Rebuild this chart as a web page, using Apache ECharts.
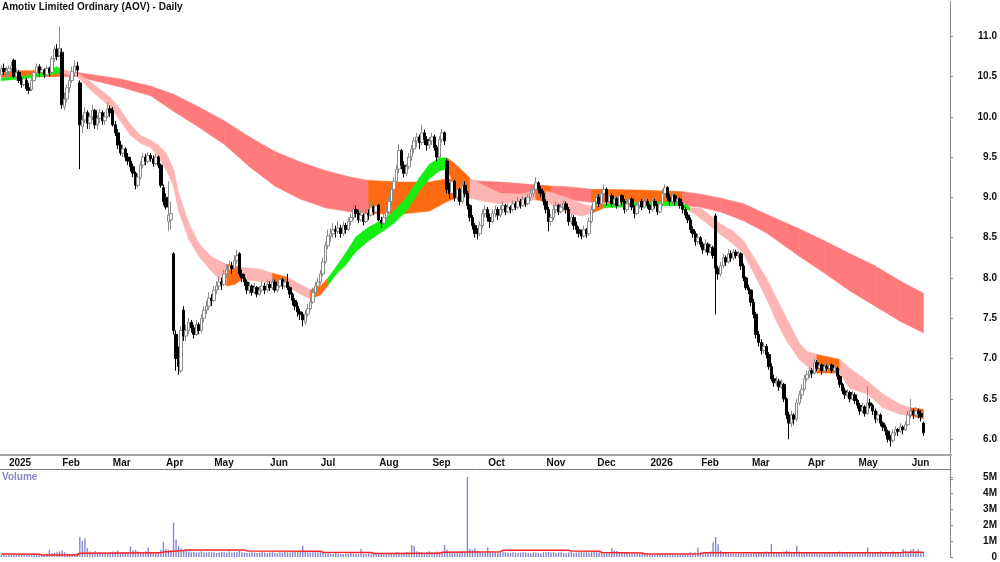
<!DOCTYPE html>
<html>
<head>
<meta charset="utf-8">
<title>Amotiv Limited Ordinary (AOV) - Daily</title>
<script src="https://cdn.jsdelivr.net/npm/echarts@6.0.0/dist/echarts.min.js"></script>
<style>
  html, body { margin: 0; padding: 0; background: #fff; }
  #chart { width: 1000px; height: 562px; }
</style>
</head>
<body>
<div id="chart"></div>
<script>
// trading days shown for each month, and the label drawn at its first day
const monthCounts = [3, 21, 20, 21, 19, 22, 20, 23, 21, 22, 23, 20, 21, 20, 20, 22, 20, 21, 6];
const monthLabels = ['', '2025', 'Feb', 'Mar', 'Apr', 'May', 'Jun', 'Jul', 'Aug', 'Sep', 'Oct', 'Nov', 'Dec',
                     '2026', 'Feb', 'Mar', 'Apr', 'May', 'Jun'];
const padDays = 10; // empty space right of the last bar

// daily bars: [open, high, low, close]
const bars = [
  // Dec 2024
  [10.52,10.64,10.5,10.6],[10.6,10.66,10.52,10.56],[10.55,10.62,10.48,10.58],
  // Jan 2025
  [10.56,10.64,10.52,10.6],[10.6,10.68,10.55,10.63],[10.7,10.72,10.48,10.5],[10.5,10.6,10.45,10.55],
  [10.55,10.58,10.42,10.45],[10.45,10.5,10.36,10.4],[10.4,10.5,10.38,10.47],[10.45,10.48,10.32,10.35],
  [10.36,10.42,10.28,10.33],[10.34,10.48,10.32,10.45],[10.45,10.58,10.44,10.55],[10.55,10.66,10.52,10.62],
  [10.62,10.65,10.5,10.55],[10.55,10.62,10.5,10.58],[10.58,10.6,10.48,10.52],[10.52,10.64,10.5,10.6],
  [10.6,10.62,10.5,10.55],[10.55,10.75,10.54,10.72],[10.72,10.88,10.68,10.84],[10.84,10.9,10.7,10.75],
  [10.76,11.12,10.74,10.85],
  // Feb
  [10.8,10.85,10.1,10.15],[10.12,10.3,10.08,10.22],[10.22,10.4,10.18,10.36],[10.36,10.5,10.3,10.45],
  [10.45,10.62,10.42,10.56],[10.55,10.7,10.5,10.63],[10.63,10.68,10.5,10.58],[10.42,10.45,9.35,9.9],
  [9.88,10.02,9.8,9.96],[9.96,10.12,9.92,10.05],[10.05,10.08,9.85,9.92],[9.92,10.05,9.85,10.0],
  [10.0,10.15,9.96,10.08],[10.08,10.1,9.85,9.9],[9.9,10.02,9.84,9.98],[9.98,10.1,9.92,10.05],
  [10.05,10.08,9.9,9.95],[9.95,10.06,9.9,10.0],[10.0,10.18,9.98,10.1],[10.1,10.14,10.0,10.05],
  // Mar
  [10.08,10.12,9.88,9.9],[9.9,9.95,9.76,9.8],[9.8,9.85,9.6,9.65],[9.65,9.7,9.52,9.55],
  [9.55,9.66,9.5,9.6],[9.6,9.62,9.45,9.5],[9.5,9.55,9.4,9.45],[9.45,9.5,9.32,9.38],
  [9.38,9.42,9.25,9.3],[9.3,9.32,9.1,9.15],[9.15,9.3,9.12,9.25],[9.25,9.45,9.22,9.4],
  [9.4,9.55,9.36,9.5],[9.5,9.54,9.4,9.45],[9.45,9.56,9.42,9.52],[9.52,9.55,9.44,9.48],
  [9.48,9.52,9.38,9.42],[9.42,9.54,9.4,9.5],[9.5,9.52,9.36,9.4],[9.4,9.42,9.12,9.15],
  [9.12,9.16,8.9,8.95],
  // Apr
  [9.0,9.05,8.85,8.88],[8.7,9.2,8.58,8.78],[8.72,8.95,8.6,8.8],[8.3,8.32,7.3,7.35],
  [7.3,7.35,6.85,7.0],[7.05,7.15,6.8,6.9],[6.85,7.4,6.82,7.35],[7.6,7.65,7.22,7.28],
  [7.28,7.42,7.22,7.35],[7.35,7.5,7.3,7.45],[7.45,7.48,7.32,7.38],[7.38,7.42,7.25,7.3],
  [7.3,7.48,7.28,7.42],[7.42,7.45,7.3,7.35],[7.35,7.55,7.32,7.5],[7.5,7.65,7.45,7.6],
  [7.6,7.72,7.55,7.65],[7.65,7.82,7.6,7.75],[7.75,7.8,7.65,7.72],
  // May
  [7.72,7.9,7.7,7.85],[7.85,7.96,7.8,7.9],[7.9,8.02,7.85,7.95],[7.95,8.0,7.85,7.92],
  [7.92,8.1,7.9,8.05],[8.05,8.16,8.0,8.1],[8.1,8.22,8.06,8.15],[8.15,8.2,8.05,8.12],
  [8.12,8.28,8.1,8.22],[8.22,8.35,8.18,8.28],[8.3,8.32,8.02,8.05],[8.05,8.1,7.95,8.0],
  [8.0,8.05,7.9,7.95],[7.95,7.98,7.8,7.85],[7.85,7.95,7.8,7.9],[7.9,7.92,7.78,7.82],
  [7.82,7.94,7.8,7.88],[7.88,7.9,7.76,7.8],[7.8,7.9,7.78,7.85],[7.85,7.96,7.82,7.9],
  [7.9,7.94,7.8,7.85],[7.85,7.98,7.82,7.92],
  // Jun
  [7.92,7.96,7.84,7.88],[7.88,8.0,7.85,7.95],[7.95,7.98,7.82,7.85],[7.85,7.95,7.82,7.9],
  [7.9,8.02,7.88,7.98],[7.98,8.0,7.86,7.9],[7.9,8.0,7.88,7.95],[7.95,8.05,7.85,7.88],
  [7.88,7.9,7.75,7.8],[7.8,7.82,7.66,7.72],[7.72,7.75,7.6,7.65],[7.65,7.7,7.52,7.58],
  [7.58,7.62,7.48,7.55],[7.55,7.58,7.4,7.48],[7.45,7.6,7.42,7.55],[7.55,7.68,7.52,7.62],
  [7.62,7.75,7.6,7.7],[7.7,7.88,7.68,7.82],[7.82,7.95,7.8,7.9],[7.9,8.0,7.86,7.95],
  // Jul
  [7.95,8.1,7.92,8.05],[8.05,8.25,8.02,8.2],[8.2,8.45,8.18,8.4],[8.4,8.6,8.36,8.52],
  [8.52,8.62,8.45,8.55],[8.55,8.68,8.5,8.6],[8.6,8.65,8.5,8.58],[8.58,8.7,8.55,8.62],
  [8.62,8.66,8.5,8.55],[8.55,8.7,8.52,8.65],[8.65,8.68,8.55,8.6],[8.6,8.75,8.58,8.7],
  [8.7,8.8,8.65,8.75],[8.75,8.92,8.72,8.85],[8.85,8.9,8.75,8.8],[8.8,8.84,8.68,8.72],
  [8.72,8.84,8.7,8.78],[8.78,8.8,8.65,8.7],[8.7,8.86,8.68,8.8],[8.8,8.85,8.72,8.78],
  [8.78,8.95,8.76,8.88],[8.88,8.9,8.78,8.82],[8.82,8.96,8.8,8.9],
  // Aug
  [8.9,8.92,8.7,8.72],[8.72,8.76,8.62,8.68],[8.68,8.8,8.65,8.75],[8.75,8.88,8.72,8.82],
  [8.82,9.0,8.8,8.95],[8.95,9.15,8.92,9.1],[9.1,9.25,9.05,9.2],[9.2,9.4,9.18,9.35],
  [9.35,9.66,9.3,9.58],[9.58,9.6,9.35,9.4],[9.4,9.45,9.25,9.3],[9.3,9.42,9.26,9.38],
  [9.38,9.55,9.35,9.5],[9.5,9.65,9.45,9.6],[9.6,9.75,9.55,9.7],[9.7,9.8,9.62,9.75],
  [9.75,9.78,9.6,9.68],[9.68,9.9,9.65,9.8],[9.8,9.84,9.65,9.72],[9.72,9.76,9.58,9.65],
  [9.65,9.75,9.6,9.7],
  // Sep
  [9.7,9.8,9.65,9.75],[9.75,9.78,9.58,9.62],[9.62,9.65,9.45,9.5],[9.5,9.76,9.48,9.72],
  [9.72,9.85,9.68,9.8],[9.8,9.82,9.65,9.7],[9.45,9.48,9.05,9.1],[9.1,9.18,8.98,9.05],
  [9.05,9.25,9.02,9.2],[9.2,9.22,8.95,9.0],[9.0,9.15,8.96,9.1],[9.1,9.12,8.9,8.95],
  [8.95,9.2,8.92,9.15],[9.15,9.2,9.0,9.05],[9.05,9.08,8.85,8.9],[8.9,8.92,8.7,8.75],
  [8.75,8.78,8.6,8.65],[8.65,8.68,8.5,8.55],[8.58,8.62,8.48,8.55],[8.55,8.7,8.52,8.65],
  [8.65,8.85,8.62,8.8],[8.8,8.9,8.75,8.85],
  // Oct
  [8.85,8.88,8.7,8.75],[8.75,8.8,8.62,8.7],[8.7,8.85,8.68,8.8],[8.8,8.9,8.75,8.85],
  [8.85,8.88,8.72,8.78],[8.78,8.9,8.75,8.85],[8.85,8.95,8.8,8.9],[8.9,8.92,8.78,8.82],
  [8.82,8.92,8.8,8.88],[8.88,8.9,8.8,8.85],[8.85,8.96,8.82,8.92],[8.92,8.95,8.84,8.88],
  [8.88,9.0,8.85,8.95],[8.95,8.98,8.86,8.9],[8.9,9.02,8.88,8.98],[8.98,9.0,8.88,8.92],
  [8.92,9.04,8.9,9.0],[9.0,9.1,8.96,9.05],[9.05,9.15,9.0,9.1],[9.1,9.25,9.06,9.18],
  [9.18,9.2,9.05,9.1],[9.1,9.14,9.0,9.05],[9.05,9.08,8.9,8.95],
  // Nov
  [8.95,8.98,8.8,8.85],[8.85,8.88,8.58,8.7],[8.7,8.8,8.65,8.75],[8.75,8.9,8.72,8.85],
  [8.85,8.95,8.8,8.9],[8.9,8.92,8.78,8.82],[8.82,8.92,8.8,8.88],[8.88,8.96,8.84,8.92],
  [8.92,8.95,8.8,8.85],[8.85,8.88,8.65,8.7],[8.7,8.8,8.66,8.75],[8.75,8.78,8.6,8.65],
  [8.65,8.7,8.55,8.6],[8.6,8.64,8.5,8.55],[8.55,8.6,8.48,8.52],[8.52,8.65,8.5,8.6],
  [8.6,8.62,8.5,8.55],[8.55,8.75,8.52,8.7],[8.7,8.9,8.68,8.85],[8.85,9.0,8.82,8.95],
  // Dec
  [8.95,9.05,8.9,9.0],[9.0,9.04,8.88,8.92],[8.92,9.1,8.9,9.05],[9.05,9.16,9.0,9.1],
  [9.1,9.12,8.9,8.95],[8.95,9.06,8.92,9.02],[9.02,9.05,8.88,8.92],[8.92,9.02,8.9,8.98],
  [8.98,9.0,8.86,8.9],[8.9,9.06,8.88,9.02],[9.02,9.04,8.9,8.95],[8.95,8.98,8.8,8.85],
  [8.85,8.96,8.82,8.92],[8.92,9.02,8.9,8.98],[8.98,9.0,8.84,8.88],[8.88,8.9,8.74,8.8],
  [8.8,8.94,8.78,8.9],[8.9,9.0,8.86,8.95],[8.95,8.98,8.84,8.88],[8.88,9.0,8.86,8.95],
  [8.95,8.98,8.86,8.9],
  // Jan 2026
  [8.9,8.92,8.8,8.85],[8.85,9.0,8.82,8.95],[8.95,8.98,8.86,8.9],[8.9,8.92,8.78,8.82],
  [8.82,8.96,8.8,8.92],[8.92,9.1,8.9,9.05],[9.05,9.16,9.02,9.12],[9.12,9.14,8.96,9.0],
  [9.0,9.04,8.9,8.95],[8.95,9.06,8.92,9.02],[9.02,9.04,8.9,8.95],[8.95,9.04,8.92,8.98],
  [8.98,9.0,8.86,8.9],[8.9,8.94,8.8,8.85],[8.85,8.88,8.74,8.78],[8.78,8.82,8.68,8.72],
  [8.72,8.75,8.56,8.6],[8.6,8.64,8.5,8.55],[8.55,8.58,8.4,8.45],[8.45,8.55,8.42,8.5],
  // Feb
  [8.5,8.52,8.38,8.42],[8.42,8.45,8.3,8.35],[8.35,8.48,8.32,8.42],[8.42,8.44,8.28,8.32],
  [8.32,8.42,8.3,8.38],[8.38,8.4,8.24,8.28],[8.77,8.8,7.55,8.12],[8.12,8.15,7.98,8.05],
  [8.05,8.2,8.02,8.15],[8.15,8.3,8.12,8.25],[8.25,8.28,8.15,8.2],[8.2,8.36,8.18,8.3],
  [8.3,8.34,8.2,8.25],[8.25,8.36,8.22,8.32],[8.32,8.35,8.24,8.28],[8.28,8.34,8.25,8.3],
  [8.3,8.32,8.1,8.15],[8.15,8.18,7.96,8.0],[8.0,8.02,7.85,7.88],[7.88,7.92,7.8,7.85],
  // Mar
  [7.85,7.86,7.65,7.7],[7.7,7.74,7.5,7.55],[7.55,7.58,7.25,7.3],[7.3,7.34,7.15,7.2],
  [7.2,7.24,7.05,7.1],[7.1,7.2,7.06,7.15],[7.15,7.18,7.0,7.05],[7.05,7.08,6.86,6.9],
  [6.9,6.94,6.72,6.75],[6.75,6.8,6.65,6.7],[6.7,6.78,6.66,6.72],[6.72,6.75,6.6,6.65],
  [6.65,6.74,6.62,6.68],[6.68,6.7,6.46,6.5],[6.5,6.52,6.25,6.3],[6.3,6.34,6.0,6.2],
  [6.2,6.35,6.15,6.3],[6.3,6.32,6.18,6.25],[6.25,6.5,6.22,6.45],[6.45,6.6,6.42,6.55],
  [6.55,6.68,6.5,6.62],[6.62,6.8,6.6,6.75],
  // Apr
  [6.75,6.85,6.72,6.8],[6.8,6.9,6.76,6.85],[6.85,6.88,6.76,6.82],[6.82,7.0,6.8,6.95],
  [6.95,6.98,6.84,6.88],[6.88,6.96,6.85,6.92],[6.92,6.94,6.8,6.85],[6.85,6.95,6.82,6.9],
  [6.9,6.93,6.84,6.88],[6.88,6.96,6.86,6.92],[6.92,6.94,6.82,6.85],[6.85,6.92,6.82,6.88],
  [6.88,6.9,6.74,6.78],[6.78,6.8,6.64,6.68],[6.68,6.7,6.56,6.6],[6.6,6.64,6.5,6.55],
  [6.55,6.62,6.52,6.58],[6.58,6.6,6.46,6.5],[6.5,6.6,6.48,6.55],[6.55,6.58,6.44,6.48],
  // May
  [6.48,6.5,6.38,6.42],[6.42,6.45,6.3,6.35],[6.35,6.45,6.32,6.4],[6.4,6.42,6.28,6.32],
  [6.32,6.66,6.3,6.45],[6.45,6.5,6.38,6.42],[6.42,6.44,6.3,6.35],[6.35,6.38,6.2,6.25],
  [6.25,6.35,6.22,6.3],[6.3,6.32,6.16,6.2],[6.2,6.22,6.1,6.15],[6.15,6.18,6.05,6.1],
  [6.1,6.12,5.96,6.0],[6.0,6.05,5.91,5.98],[5.98,6.12,5.96,6.08],[6.08,6.16,6.04,6.12],
  [6.12,6.14,6.04,6.1],[6.1,6.2,6.08,6.15],[6.15,6.17,6.06,6.12],[6.12,6.22,6.1,6.18],
  [6.18,6.35,6.16,6.3],
  // Jun
  [6.3,6.5,6.26,6.35],[6.35,6.38,6.25,6.3],[6.3,6.4,6.28,6.35],[6.35,6.38,6.26,6.32],
  [6.32,6.36,6.22,6.28],[6.2,6.22,6.04,6.08]
];

// daily volume, millions of shares
const volumes = [
  0.12,0.15,0.1,
  0.14,0.18,0.2,0.12,0.15,0.16,0.22,0.18,0.14,0.12,0.15,0.2,0.17,0.13,0.16,0.2,0.45,0.25,0.28,0.3,0.35,
  0.4,0.3,0.22,0.2,0.18,0.2,0.25,1.25,1.0,1.15,0.55,0.35,0.3,0.38,0.25,0.3,0.22,0.28,0.25,0.3,
  0.35,0.3,0.4,0.28,0.32,0.3,0.25,0.65,0.4,0.45,0.35,0.3,0.28,0.35,0.6,0.3,0.25,0.32,0.3,0.45,0.95,
  0.5,0.45,0.4,2.15,1.1,0.7,0.55,0.45,0.4,0.35,0.3,0.32,0.28,0.3,0.35,0.3,0.28,0.32,0.3,
  0.3,0.25,0.28,0.32,0.3,0.26,0.35,0.28,0.3,0.32,0.38,0.3,0.28,0.25,0.27,0.3,0.28,0.25,0.26,0.3,0.28,0.25,
  0.28,0.3,0.26,0.25,0.3,0.28,0.32,0.3,0.28,0.35,0.32,0.3,0.4,0.7,0.35,0.3,0.28,0.3,0.32,0.3,
  0.3,0.28,0.25,0.3,0.22,0.2,0.25,0.22,0.2,0.18,0.22,0.2,0.25,0.22,0.2,0.18,0.5,0.2,0.18,0.22,0.2,0.18,0.2,
  0.18,0.2,0.15,0.18,0.2,0.22,0.25,0.3,0.28,0.25,0.22,0.3,0.28,0.75,0.7,0.35,0.3,0.28,0.25,0.3,0.35,
  0.3,0.28,0.35,0.3,0.32,0.75,0.45,0.35,0.3,0.28,0.32,0.3,0.35,0.3,5.0,0.5,0.45,0.55,0.4,0.35,0.3,0.32,
  0.6,0.35,0.3,0.32,0.28,0.3,0.35,0.3,0.28,0.25,0.3,0.28,0.25,0.27,0.3,0.28,0.25,0.22,0.3,0.28,0.25,0.22,0.3,
  0.3,0.32,0.28,0.3,0.25,0.28,0.3,0.25,0.22,0.28,0.3,0.25,0.28,0.3,0.35,0.3,0.32,0.28,0.3,0.32,
  0.3,0.28,0.35,0.3,0.32,0.3,0.55,0.4,0.38,0.3,0.28,0.3,0.25,0.22,0.2,0.18,0.2,0.22,0.2,0.18,0.15,
  0.18,0.15,0.12,0.15,0.18,0.2,0.22,0.15,0.18,0.2,0.15,0.18,0.2,0.22,0.25,0.2,0.3,0.25,0.28,0.6,
  0.3,0.25,0.28,0.3,0.35,0.9,1.25,0.8,0.4,0.3,0.28,0.25,0.22,0.2,0.18,0.2,0.22,0.25,0.22,0.2,
  0.22,0.25,0.3,0.28,0.25,0.3,0.35,0.28,0.8,0.3,0.28,0.25,0.3,0.35,0.4,0.35,0.3,0.28,0.7,0.35,0.3,0.28,
  0.28,0.3,0.32,0.3,0.28,0.25,0.3,0.28,0.32,0.3,0.28,0.25,0.3,0.35,0.3,0.28,0.25,0.3,0.28,0.25,
  0.28,0.3,0.25,0.28,0.6,0.3,0.28,0.25,0.3,0.35,0.3,0.28,0.32,0.3,0.35,0.3,0.28,0.3,0.5,0.35,0.3,
  0.45,0.5,0.35,0.48,0.3,0.32
];

// volume average line: [bar index, millions]
const volumeAvg = [
  [0,0.18],[15,0.17],[16,0.12],[30,0.12],[31,0.24],[63,0.26],[64,0.32],[72,0.4],[73,0.44],
  [96,0.44],[97,0.38],[126,0.36],[127,0.3],[146,0.28],[147,0.22],[173,0.23],[174,0.3],
  [197,0.33],[198,0.42],[224,0.42],[225,0.38],[236,0.36],[237,0.28],[253,0.25],[254,0.19],
  [276,0.2],[277,0.26],[355,0.26],[356,0.3],[364,0.3]
];

// ribbon outlines: [bar index, low edge, high edge, colour of the stretch that starts here]
const shortRibbon = [
  [0,10.45,10.48,'g'],[8,10.47,10.5,'g'],[16,10.5,10.54,'g'],[22,10.54,10.62,'g'],
  [24,10.54,10.59,'p'],[30,10.5,10.54,'p'],[35,10.34,10.44,'p'],[39,10.23,10.34,'p'],
  [43,10.12,10.24,'p'],[47,9.95,10.09,'p'],[51,9.77,9.9,'p'],[55,9.67,9.77,'p'],
  [59,9.62,9.71,'p'],[62,9.5,9.65,'p'],[65,9.35,9.55,'p'],[68,9.14,9.35,'p'],
  [70,8.83,9.05,'p'],[74,8.48,8.68,'p'],[78,8.27,8.43,'p'],[83,8.08,8.26,'p'],
  [89,7.9,8.17,'o'],[92,7.92,8.15,'o'],[95,7.98,8.13,'p'],[102,7.96,8.11,'p'],
  [107,7.94,8.06,'o'],[113,7.9,8.01,'p'],[118,7.8,7.92,'p'],[122,7.74,7.85,'o'],
  [126,7.79,7.9,'o'],[129,7.91,8.0,'g'],[132,8.04,8.13,'g'],[136,8.16,8.31,'g'],
  [140,8.33,8.51,'g'],[145,8.46,8.63,'g'],[151,8.59,8.73,'g'],[155,8.68,8.83,'g'],
  [160,8.83,9.0,'g'],[165,9.08,9.24,'g'],[169,9.23,9.41,'g'],[173,9.33,9.49,'g'],
  [176,9.35,9.49,'o'],[179,9.14,9.42,'o'],[185,8.99,9.24,'p'],[191,8.95,9.14,'p'],
  [197,8.92,9.05,'p'],[205,8.94,9.04,'p'],[211,8.97,9.09,'o'],[215,8.95,9.08,'p'],
  [218,8.89,9.05,'p'],[224,8.8,8.99,'p'],[229,8.77,8.92,'p'],[233,8.8,8.89,'o'],
  [238,8.87,8.92,'g'],[252,8.89,8.94,'g'],[268,8.9,8.95,'g'],[272,8.83,8.87,'p'],
  [276,8.74,8.87,'p'],[284,8.54,8.67,'p'],[289,8.42,8.58,'p'],[293,8.3,8.46,'p'],
  [298,8.0,8.21,'p'],[302,7.75,8.0,'p'],[306,7.46,7.75,'p'],[310,7.22,7.5,'p'],
  [315,6.99,7.19,'p'],[318,6.91,7.09,'p'],[322,6.82,7.05,'o'],[331,6.82,6.99,'p'],
  [335,6.63,6.88,'p'],[342,6.56,6.72,'p'],[348,6.39,6.56,'p'],[355,6.31,6.43,'p'],
  [359,6.29,6.39,'o'],[364,6.25,6.37,'o']
];
const longRibbon = [
  [0,10.49,10.57,'o'],[23,10.5,10.57,'r'],[30,10.5,10.55,'r'],[47,10.37,10.47,'r'],
  [59,10.26,10.38,'r'],[68,10.07,10.28,'r'],[78,9.87,10.12,'r'],[88,9.66,9.95,'r'],
  [98,9.38,9.75,'r'],[108,9.14,9.57,'r'],[118,8.98,9.44,'r'],[128,8.87,9.33,'r'],
  [138,8.82,9.25,'r'],[145,8.8,9.21,'o'],[157,8.79,9.19,'o'],[169,8.83,9.19,'o'],
  [176,8.95,9.23,'o'],[183,9.03,9.21,'r'],[197,9.02,9.19,'r'],[213,8.99,9.15,'o'],
  [217,8.98,9.14,'r'],[224,8.97,9.13,'r'],[233,8.94,9.1,'o'],[252,8.92,9.09,'o'],
  [269,8.9,9.07,'r'],[276,8.88,9.04,'r'],[284,8.82,8.99,'r'],[293,8.71,8.92,'r'],
  [302,8.56,8.79,'r'],[315,8.27,8.61,'r'],[325,8.06,8.46,'r'],[335,7.84,8.3,'r'],
  [345,7.65,8.15,'r'],[355,7.46,7.96,'r'],[364,7.32,7.81,'r']
];
const ribbonColors = { r: '#ff7a7a', p: '#ffb4b4', o: '#ff6a12', g: '#14ee14' };

// build the category axis: one slot per trading day plus padding on the right
const categories = [];
const monthStart = {};
monthCounts.forEach((n, m) => {
  monthStart[categories.length] = monthLabels[m];
  for (let d = 0; d < n; d++) categories.push(m + '-' + d);
});
const nBars = categories.length;
for (let k = 0; k < padDays; k++) categories.push('pad' + k);
const nSlots = categories.length;
if (bars.length !== nBars || volumes.length !== nBars) {
  throw new Error('data length mismatch: bars ' + bars.length + ' volumes ' + volumes.length + ' days ' + nBars);
}

const isLabelled = idx => !!monthStart[idx];
const font = 'Liberation Sans, Arial, sans-serif';
const labelStyle = { fontFamily: font, fontSize: 10, fontWeight: 'bold', color: '#111' };
const axisGrey = { show: true, onZero: false, lineStyle: { color: '#888' } };

function ribbonRenderer(rows) {
  return function (params, api) {
    const k = params.dataIndex;
    if (k >= rows.length - 1) return null;
    const a = rows[k], b = rows[k + 1];
    const fill = ribbonColors[a[3]];
    return {
      type: 'polygon',
      shape: {
        points: [api.coord([a[0], a[2]]), api.coord([b[0], b[2]]),
                 api.coord([b[0], b[1]]), api.coord([a[0], a[1]])]
      },
      style: { fill: fill, stroke: fill, lineWidth: 0.6 }
    };
  };
}

const chart = echarts.init(document.getElementById('chart'), null, { renderer: 'canvas' });
chart.setOption({
  animation: false,
  backgroundColor: '#fff',
  textStyle: { fontFamily: font },
  title: [
    { text: 'Amotiv Limited Ordinary (AOV) - Daily', left: 2, top: 2, padding: 0,
      textStyle: { fontFamily: font, fontSize: 10, fontWeight: 'bold', color: '#111' } },
    { text: 'Volume', left: 2, top: 472, padding: 0,
      textStyle: { fontFamily: font, fontSize: 10, fontWeight: 'bold', color: '#8585c6' } }
  ],
  grid: [
    { left: 0, top: 1.5, width: 951, height: 478 },
    { left: 0, top: 455, width: 951, height: 14 },
    { left: 0, top: 477, width: 951, height: 80 }
  ],
  xAxis: [
    { type: 'category', gridIndex: 0, data: categories, show: false },
    { type: 'value', gridIndex: 0, min: -0.5, max: nSlots - 0.5, show: false },
    { type: 'category', gridIndex: 1, data: categories, position: 'top',
      axisLine: { show: true, onZero: false, lineStyle: { color: '#a6a6a6', width: 2 } },
      axisTick: { alignWithLabel: true, interval: isLabelled, length: 3, lineStyle: { color: '#888' } },
      axisLabel: Object.assign({ inside: true, interval: isLabelled, align: 'left', margin: 3,
        formatter: (v, idx) => monthStart[idx] || '' }, labelStyle) },
    { type: 'category', gridIndex: 1, data: categories, position: 'bottom',
      axisLine: { show: true, onZero: false, lineStyle: { color: '#7a7a7a', width: 1 } },
      axisTick: { show: false }, axisLabel: { show: false } },
    { type: 'category', gridIndex: 2, data: categories, show: false },
    { type: 'value', gridIndex: 2, min: -0.5, max: nSlots - 0.5, show: false }
  ],
  yAxis: [
    { type: 'value', gridIndex: 0, position: 'right', min: 5.5, max: 11.43, interval: 0.5,
      axisLine: axisGrey,
      axisTick: { show: true, length: 3, lineStyle: { color: '#888' } },
      splitLine: { show: false },
      axisLabel: Object.assign({ align: 'right', margin: 47, showMaxLabel: false,
        formatter: v => (v < 5.9 || v > 11.1) ? '' : v.toFixed(1) }, labelStyle) },
    { type: 'value', gridIndex: 1, show: false },
    { type: 'value', gridIndex: 2, position: 'right', min: 0, max: 5, interval: 1,
      axisLine: axisGrey,
      axisTick: { show: true, length: 3, lineStyle: { color: '#888' } },
      splitLine: { show: false },
      axisLabel: Object.assign({ align: 'right', margin: 47,
        formatter: v => v === 0 ? '0' : v + 'M' }, labelStyle) }
  ],
  series: [
    { type: 'custom', name: 'long ribbon', xAxisIndex: 1, yAxisIndex: 0, z: 1, silent: true,
      renderItem: ribbonRenderer(longRibbon), encode: { x: 0, y: [1, 2] },
      data: longRibbon.map(r => [r[0], r[1], r[2]]) },
    { type: 'custom', name: 'short ribbon', xAxisIndex: 1, yAxisIndex: 0, z: 2, silent: true,
      renderItem: ribbonRenderer(shortRibbon), encode: { x: 0, y: [1, 2] },
      data: shortRibbon.map(r => [r[0], r[1], r[2]]) },
    { type: 'candlestick', name: 'AOV', xAxisIndex: 0, yAxisIndex: 0, z: 3, barWidth: 3,
      itemStyle: { color: '#ffffff', color0: '#000000', borderColor: '#8c8c8c', borderColor0: '#000000', borderWidth: 1 },
      data: bars.map(b => [b[0], b[3], b[2], b[1]]) },
    { type: 'bar', name: 'Volume', xAxisIndex: 4, yAxisIndex: 2, barWidth: 1.4,
      itemStyle: { color: '#8585d0' }, data: volumes },
    { type: 'line', name: 'Volume avg', xAxisIndex: 5, yAxisIndex: 2, symbol: 'none', z: 4,
      lineStyle: { color: '#ff2424', width: 1.5 }, data: volumeAvg }
  ]
});
</script>
</body>
</html>
